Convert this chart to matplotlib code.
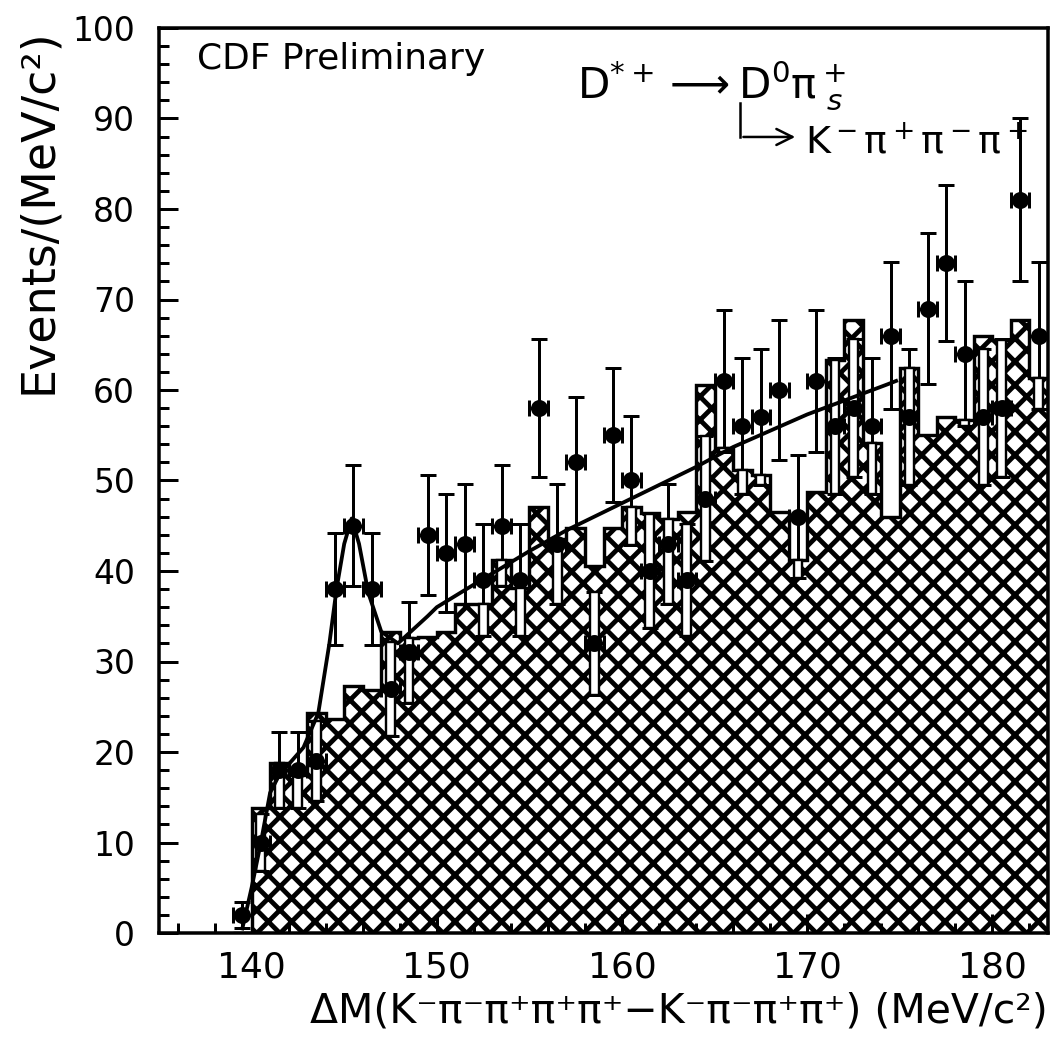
import matplotlib
matplotlib.use("Agg")
import matplotlib.pyplot as plt
from matplotlib.patches import Rectangle
from matplotlib.ticker import MultipleLocator
import numpy as np

# bin edges (1 MeV bins from 139 to 183)
bin_lo = 139
bin_hi = 183

# data points (bin centres 139.5 ... 182.5)
counts = [2, 10, 18, 18, 19, 38, 45, 38, 27, 31,
          44, 42, 43, 39, 45, 39, 58, 43, 52, 32,
          55, 50, 40, 43, 39, 48, 61, 56, 57, 60,
          46, 61, 56, 58, 56, 66, 57, 69, 74, 64,
          57, 58, 81, 66]
errors = [1.4, 3.2, 4.2, 4.2, 4.4, 6.2, 6.7, 6.2, 5.2, 5.6,
          6.6, 6.5, 6.6, 6.2, 6.7, 6.2, 7.6, 6.6, 7.2, 5.7,
          7.4, 7.1, 6.3, 6.6, 6.2, 6.9, 7.8, 7.5, 7.5, 7.7,
          6.8, 7.8, 7.5, 7.6, 7.5, 8.1, 7.5, 8.3, 8.6, 8.0,
          7.5, 7.6, 9.0, 8.1]

# hatched background histogram
background = [0.0, 13.8, 18.8, 17.5, 24.3, 23.7, 27.3, 26.9, 33.3, 32.6,
              32.7, 33.3, 36.3, 36.3, 41.2, 38.1, 47.1, 43.5, 44.7, 40.5,
              44.7, 47.1, 46.4, 45.8, 46.5, 60.5, 53.6, 51.2, 50.6, 46.5,
              41.2, 48.7, 63.3, 67.7, 54.1, 46.0, 62.4, 55.0, 57.0, 56.7,
              66.0, 65.5, 67.7, 61.3]

# fitted curve (signal + background)
fit_x = [139.5, 140.0, 140.5, 141.0, 141.5, 142.2, 142.8, 143.6, 144.2, 144.6,
         145.0, 145.4, 145.8, 146.3, 147.0, 147.9, 149.5, 150.0, 152.0, 155.0,
         157.0, 160.0, 164.0, 166.0, 170.0, 174.3, 174.8]
fit_y = [0.5, 5.0, 10.0, 15.5, 17.5, 19.1, 20.5, 24.3, 32.0, 38.2,
         43.0, 45.8, 43.0, 37.6, 33.3, 32.0, 35.0, 36.0, 38.5, 42.2,
         44.5, 47.5, 51.5, 53.7, 57.3, 60.6, 61.0]

DPI = 140


def pt(px):
    # pixel size -> points at the output dpi
    return px * 72.0 / DPI


plt.rcParams["hatch.linewidth"] = pt(4.8)
plt.rcParams["font.family"] = ["DejaVu Sans"]

edges = np.arange(bin_lo, bin_hi + 1)
centres = edges[:-1] + 0.5
counts = np.array(counts, dtype=float)
errors = np.array(errors)
background = np.array(background)

fig = plt.figure(figsize=(1052 / DPI, 1041 / DPI), dpi=DPI)
ax = fig.add_axes([159 / 1052, 1 - 933 / 1041, 889 / 1052, 905 / 1041])

ax.stairs(background, edges, fill=True, facecolor="white", edgecolor="black",
          hatch="xx", linewidth=0, zorder=1)
ax.stairs(background, edges, color="black", linewidth=pt(3.4), zorder=2)

ax.errorbar(centres, counts, xerr=0.5, yerr=errors, fmt="none", ecolor="black",
            elinewidth=pt(3), capsize=pt(8), capthick=pt(3), zorder=3)

# open boxes where the data errors fall inside the hatched area
for xc, y, e, b in zip(centres, counts, errors, background):
    lo = y - e
    hi = min(y + e, b)
    if hi > lo:
        ax.add_patch(Rectangle((xc - 0.24, lo), 0.48, hi - lo, facecolor="white",
                               edgecolor="black", linewidth=pt(2.4), zorder=4))

ax.plot(fit_x, fit_y, color="black", linewidth=pt(3.8), zorder=5)
ax.plot(centres, counts, "o", color="black", markersize=pt(15), zorder=6)

ax.set_xlim(135, 183)
ax.set_ylim(0, 100)
ax.xaxis.set_major_locator(MultipleLocator(10))
ax.xaxis.set_minor_locator(MultipleLocator(2))
ax.yaxis.set_major_locator(MultipleLocator(10))
ax.yaxis.set_minor_locator(MultipleLocator(2))
ax.tick_params(which="both", direction="in", top=False, right=False, width=pt(3))
ax.tick_params(which="major", length=pt(19))
ax.tick_params(which="minor", length=pt(10))
ax.tick_params(axis="x", pad=pt(17))
ax.tick_params(axis="y", pad=pt(24))
for sp in ax.spines.values():
    sp.set_linewidth(pt(3.5))

for lab in ax.get_xticklabels():
    lab.set_fontsize(pt(36))
for lab in ax.get_yticklabels():
    lab.set_fontsize(pt(33))

ax.set_xlabel("ΔM(K⁻π⁻π⁺π⁺π⁺−K⁻π⁻π⁺π⁺) (MeV/c²)", fontsize=pt(41),
              loc="right", labelpad=pt(8))
ax.set_ylabel("Events/(MeV/c²)", fontsize=pt(46), loc="top")
ax.yaxis.set_label_coords(-0.11, 1.0)

ax.text(0.043, 0.985, "CDF Preliminary", transform=ax.transAxes, fontsize=pt(36),
        ha="left", va="top")
ax.text(0.47, 0.922, r"D$^{*+}\longrightarrow$D$^0\mathrm{\pi}^+_{\ s}$",
        transform=ax.transAxes, fontsize=pt(42), ha="left", va="baseline")
ax.plot([0.654, 0.654], [0.917, 0.8796], transform=ax.transAxes, color="black",
        linewidth=pt(2.5), clip_on=False)
ax.annotate("", xy=(0.72, 0.8796), xytext=(0.653, 0.8796), xycoords="axes fraction",
            arrowprops=dict(arrowstyle="->", color="black", lw=pt(2.5),
                            mutation_scale=pt(40)))
ax.text(0.727, 0.862, r"K$^-\mathrm{\pi}^+\mathrm{\pi}^-\mathrm{\pi}^+$",
        transform=ax.transAxes, fontsize=pt(38), ha="left", va="baseline")

fig.savefig("out.png", dpi=DPI)
